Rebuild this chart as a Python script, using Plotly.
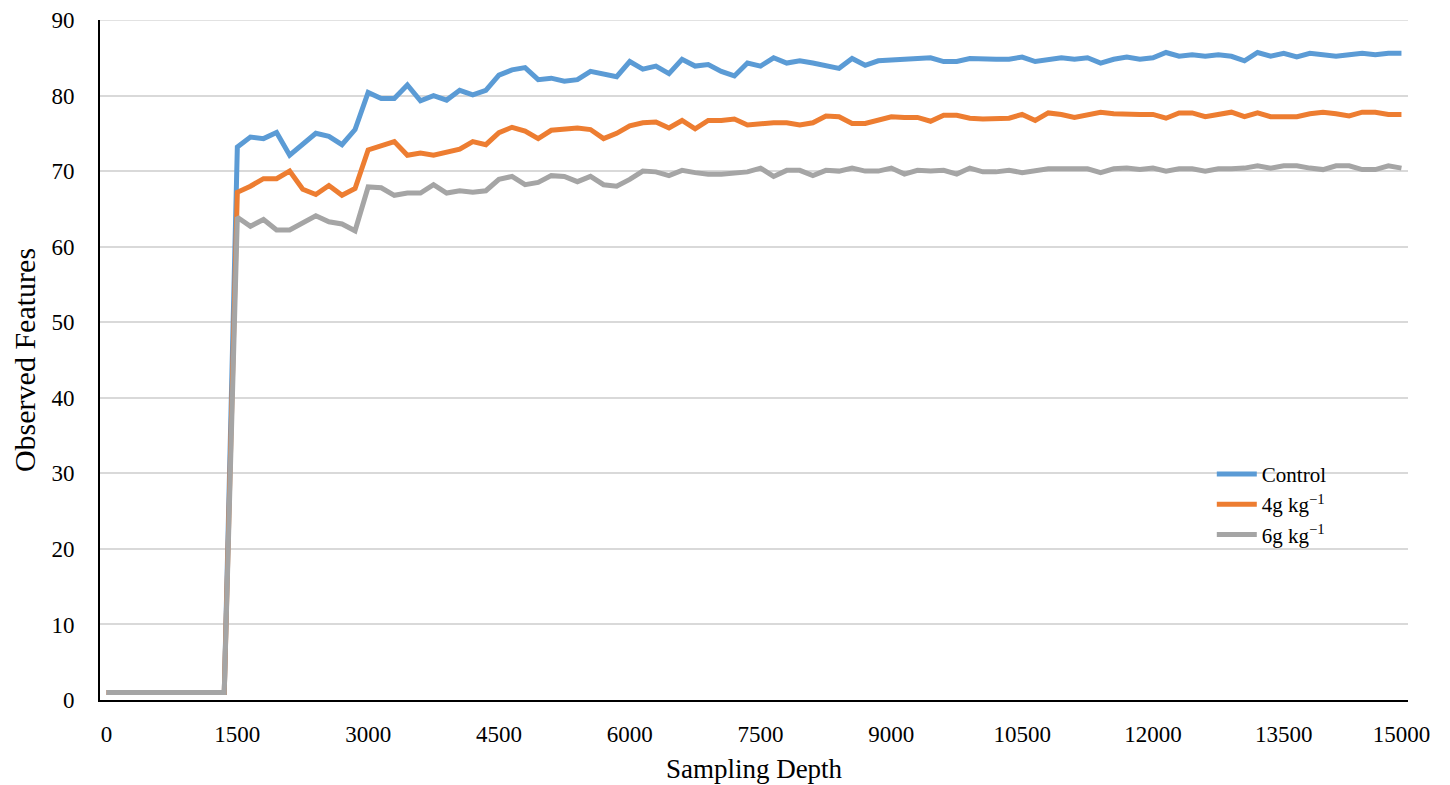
import plotly.graph_objects as go

# Sampling depth categories (100 categories, labelled every 10th plus the last)
n_points = 100
categories = list(range(n_points))
tick_positions = [0, 10, 20, 30, 40, 50, 60, 70, 80, 90, 99]
tick_labels = ["0", "1500", "3000", "4500", "6000", "7500", "9000",
               "10500", "12000", "13500", "15000"]

control = [1]*10 + [
    73.2, 74.5, 74.3, 75.1, 72.1, 73.6, 75.0, 74.6, 73.5, 75.5,
    80.4, 79.6, 79.6, 81.4, 79.3, 80.0, 79.4, 80.7, 80.1, 80.7,
    82.7, 83.4, 83.7, 82.1, 82.3, 81.9, 82.1, 83.2, 82.8, 82.5,
    84.5, 83.5, 83.9, 82.9, 84.8, 83.9, 84.1, 83.2, 82.6, 84.3,
    83.9, 85.0, 84.3, 84.6, 84.3, 84.0, 83.6, 84.9, 84.0, 84.6,
    84.7, 84.9, 85.0, 85.0, 84.5, 84.5, 84.9, 84.8, 84.8, 84.8,
    85.1, 84.5, 84.8, 85.0, 84.8, 85.0, 84.3, 84.8, 85.1, 84.8,
    85.0, 85.7, 85.2, 85.4, 85.2, 85.4, 85.2, 84.6, 85.7, 85.2,
    85.6, 85.1, 85.6, 85.4, 85.2, 85.4, 85.6, 85.4, 85.6, 85.6]

g4 = [1]*10 + [
    67.2, 68.0, 69.0, 69.0, 70.0, 67.6, 66.9, 68.1, 66.8, 67.7,
    72.8, 73.4, 73.9, 72.1, 72.4, 72.1, 72.5, 72.9, 73.9, 73.5,
    75.1, 75.8, 75.3, 74.3, 75.4, 75.6, 75.7, 75.5, 74.3, 75.0,
    76.0, 76.4, 76.5, 75.7, 76.7, 75.6, 76.7, 76.7, 76.9, 76.1,
    76.3, 76.4, 76.4, 76.1, 76.4, 77.3, 77.2, 76.3, 76.3, 76.7,
    77.2, 77.1, 77.1, 76.6, 77.4, 77.4, 77.0, 76.9, 77.0, 77.0,
    77.5, 76.7, 77.7, 77.5, 77.1, 77.5, 77.8, 77.6, 77.5, 77.5,
    77.5, 77.0, 77.7, 77.7, 77.2, 77.5, 77.8, 77.2, 77.7, 77.2,
    77.2, 77.2, 77.6, 77.8, 77.6, 77.3, 77.8, 77.8, 77.5, 77.5]

g6 = [1]*10 + [
    63.9, 62.7, 63.6, 62.2, 62.2, 63.2, 64.1, 63.3, 63.0, 62.1,
    67.9, 67.8, 66.8, 67.1, 67.1, 68.2, 67.1, 67.4, 67.2, 67.4,
    68.9, 69.3, 68.2, 68.5, 69.4, 69.3, 68.6, 69.3, 68.2, 68.0,
    68.9, 70.0, 69.9, 69.4, 70.1, 69.8, 69.6, 69.6, 69.7, 69.9,
    70.4, 69.3, 70.1, 70.1, 69.4, 70.1, 70.0, 70.4, 70.0, 70.0,
    70.4, 69.6, 70.1, 70.0, 70.1, 69.6, 70.4, 69.9, 69.9, 70.1,
    69.8, 70.1, 70.3, 70.3, 70.3, 70.3, 69.8, 70.3, 70.4, 70.2,
    70.4, 70.0, 70.3, 70.3, 70.0, 70.3, 70.3, 70.4, 70.7, 70.4,
    70.7, 70.7, 70.4, 70.2, 70.7, 70.7, 70.2, 70.2, 70.7, 70.4]

series_names = ["Control", "4g kg<sup>\u22121</sup>", "6g kg<sup>\u22121</sup>"]
series_values = [control, g4, g6]
series_colors = ["#5B9BD5", "#ED7D31", "#A5A5A5"]

FONT = "Liberation Serif"
Y_MAX = 90

fig = go.Figure()
for name, vals, col in zip(series_names, series_values, series_colors):
    fig.add_trace(go.Scatter(
        x=categories, y=vals, mode="lines", name=name,
        line=dict(color=col, width=5),
    ))

# top gridline (at the upper edge of the plot area)
fig.add_hline(y=Y_MAX, line=dict(color="#D9D9D9", width=1.5), layer="below")

# page body adds an 8 px offset, so the figure is 8 px smaller and shifted
fig.update_layout(
    width=1442, height=777,
    paper_bgcolor="white", plot_bgcolor="white",
    margin=dict(l=92, r=42, t=12, b=85, autoexpand=False),
    font=dict(family=FONT, color="black"),
    showlegend=True,
    legend=dict(
        x=0.850, y=0.362, xanchor="left", yanchor="top",
        bgcolor="rgba(0,0,0,0)", font=dict(family=FONT, size=21, color="black"),
        tracegroupgap=0, itemwidth=40,
    ),
)

fig.update_xaxes(
    range=[-0.5, n_points - 0.5], automargin=False,
    tickmode="array", tickvals=tick_positions, ticktext=tick_labels,
    showgrid=False, zeroline=False,
    showline=True, linecolor="black", linewidth=2,
    ticks="", ticklabelstandoff=12, ticklabeloverflow="allow",
    tickfont=dict(family=FONT, size=23, color="black"),
    title=dict(text="Sampling Depth", font=dict(family=FONT, size=27, color="black"), standoff=14),
)

fig.update_yaxes(
    range=[0, Y_MAX], tickmode="linear", tick0=0, dtick=10, automargin=False,
    showgrid=True, gridcolor="#D9D9D9", gridwidth=1.5,
    zeroline=False,
    showline=True, linecolor="black", linewidth=2,
    ticks="", ticklabelstandoff=19, ticklabeloverflow="allow",
    tickfont=dict(family=FONT, size=23, color="black"),
    title=dict(text="Observed Features", font=dict(family=FONT, size=30, color="black"), standoff=20),
)

fig.write_html("out.html")
